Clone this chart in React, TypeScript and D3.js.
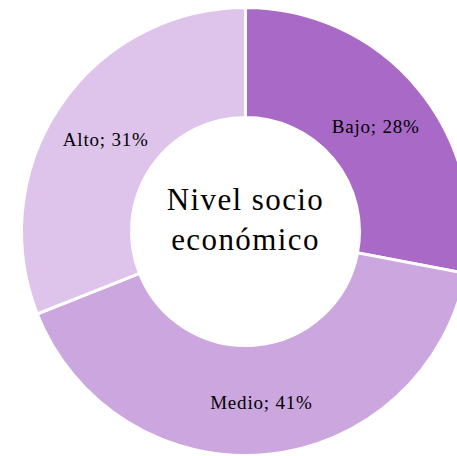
import React from "react";
import * as d3 from "d3";

const categories = ["Bajo", "Medio", "Alto"];
const values = [28, 41, 31];
const colors = ["#A86AC6", "#CBA6DF", "#DEC4EA"];
const centerLines = ["Nivel socio", "económico"];

export default function App() {
  const W = 457, H = 456;
  const cx = 245.5, cy = 231.5, R = 224, r = 114;
  const pie = d3.pie<number>().sort(null).value((d) => d)(values);
  const arc = d3.arc<d3.PieArcDatum<number>>().innerRadius(r).outerRadius(R);
  const labelArc = d3.arc<d3.PieArcDatum<number>>().innerRadius(169).outerRadius(169);
  const font = "'Liberation Serif', serif";
  return (
    <svg width={W} height={H} style={{ position: "absolute", left: 0, top: 0 }}>
      <rect width={W} height={H} fill="#fff" />
      <g transform={`translate(${cx},${cy})`}>
        {pie.map((p, i) => (
          <path key={i} d={arc(p) || ""} fill={colors[i]} stroke="#fff" strokeWidth={3} />
        ))}
        {pie.map((p, i) => {
          const [x, y] = labelArc.centroid(p);
          return (
            <text key={"l" + i} x={x} y={y + 5} textAnchor="middle" dominantBaseline="middle" fontFamily={font} fontSize={19} letterSpacing={0.8} fill="#000">
              {`${categories[i]}; ${values[i]}%`}
            </text>
          );
        })}
        {centerLines.map((t, i) => (
          <text key={"c" + i} x={0} y={-29 + i * 40} textAnchor="middle" dominantBaseline="middle" fontFamily={font} fontSize={31} letterSpacing={1.4} fill="#000">
            {t}
          </text>
        ))}
      </g>
    </svg>
  );
}
